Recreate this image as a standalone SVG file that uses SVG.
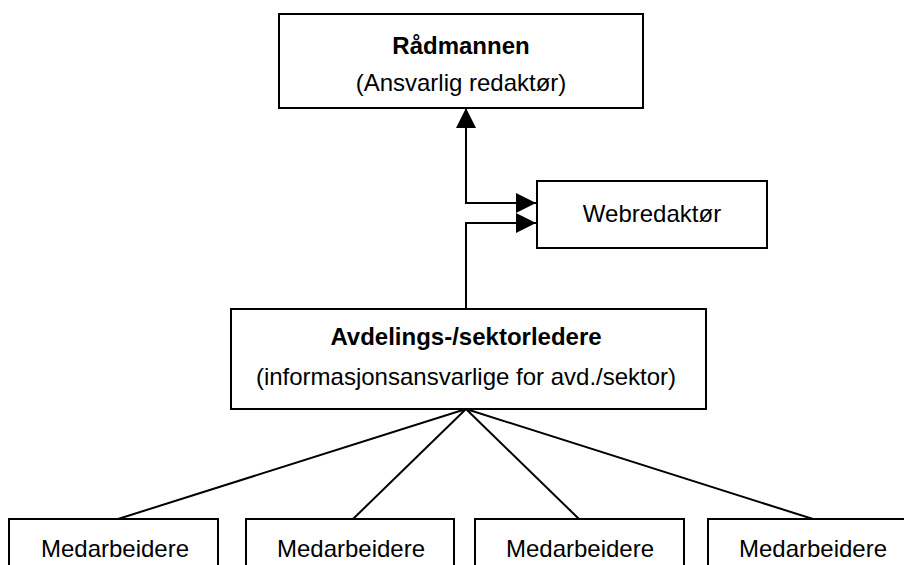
<svg xmlns="http://www.w3.org/2000/svg" width="904" height="565" viewBox="0 0 904 565">
<defs>
<style>
.box{fill:#fff;stroke:#000;stroke-width:2}
.t{font-family:"Liberation Sans",Arial,sans-serif;font-size:24px;fill:#000;text-anchor:middle}
.b{font-weight:bold}
.c{fill:none;stroke:#000;stroke-width:2}
</style>
<marker id="ah" viewBox="0 0 20 20" refX="20" refY="10" markerWidth="20" markerHeight="20" markerUnits="userSpaceOnUse" orient="auto">
<path d="M0,0 L20,10 L0,20 Z" fill="#000"/>
</marker>
</defs>
<rect width="904" height="565" fill="#fff"/>
<g id="connectors">
<path class="c" d="M466,203 V108" marker-end="url(#ah)"/>
<path class="c" d="M466,120 V203 H536" marker-end="url(#ah)"/>
<path class="c" d="M466,309 V223 H536" marker-end="url(#ah)"/>
<path class="c" d="M466,409 L118,519 M466,409 L353,519 M466,409 L579,519 M466,409 L813,519" stroke-width="1.8"/>
</g>
<g id="radmannen">
<rect class="box" x="279" y="14" width="364" height="94"/>
<text class="t b" x="461" y="54">Rådmannen</text>
<text class="t" x="461" y="91">(Ansvarlig redaktør)</text>
</g>
<g id="webredaktor">
<rect class="box" x="537" y="181" width="230" height="67"/>
<text class="t" x="652" y="222">Webredaktør</text>
</g>
<g id="avdelingsledere">
<rect class="box" x="231" y="309" width="475" height="100"/>
<text class="t b" x="466" y="345">Avdelings-/sektorledere</text>
<text class="t" x="466" y="385">(informasjonsansvarlige for avd./sektor)</text>
</g>
<g id="medarbeidere1">
<rect class="box" x="9" y="519" width="209" height="70"/>
<text class="t" x="115" y="557">Medarbeidere</text>
</g>
<g id="medarbeidere2">
<rect class="box" x="246" y="519" width="208" height="70"/>
<text class="t" x="351" y="557">Medarbeidere</text>
</g>
<g id="medarbeidere3">
<rect class="box" x="475" y="519" width="209" height="70"/>
<text class="t" x="580" y="557">Medarbeidere</text>
</g>
<g id="medarbeidere4">
<rect class="box" x="708" y="519" width="209" height="70"/>
<text class="t" x="813" y="557">Medarbeidere</text>
</g>
</svg>
